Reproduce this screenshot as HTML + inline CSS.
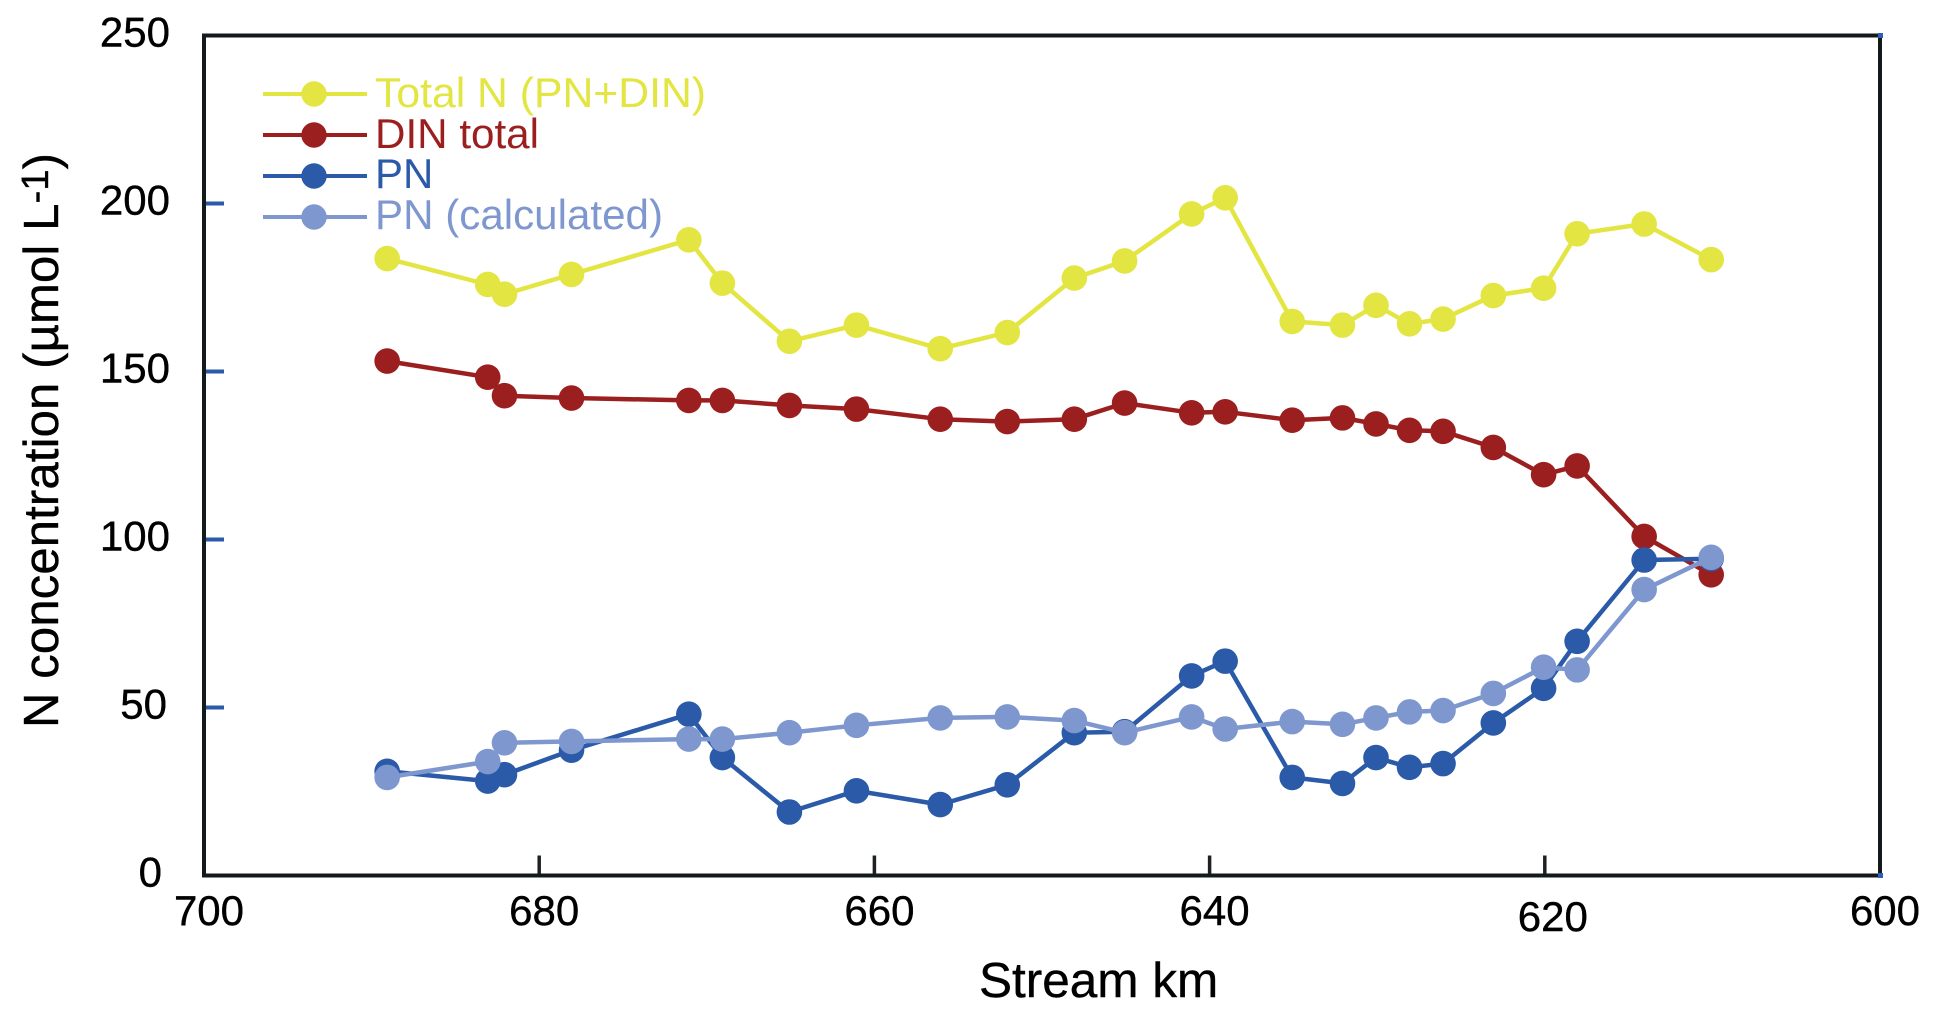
<!DOCTYPE html>
<html lang="en">
<head>
<meta charset="utf-8">
<title>N concentration by stream km</title>
<style>
html,body{margin:0;padding:0;background:#fff;}
svg{display:block;}
text{font-family:"Liberation Sans",Arial,sans-serif;}
</style>
</head>
<body>
<svg id="chart" xmlns="http://www.w3.org/2000/svg" width="1937" height="1016" viewBox="0 0 1937 1016">
  <rect x="0" y="0" width="1937" height="1016" fill="#ffffff"/>
  <g id="ticks"></g>
  <rect x="204" y="35.5" width="1676" height="840" fill="none" stroke="#131a1c" stroke-width="4"/>
  <rect x="1878" y="33" width="5" height="5" fill="#2f5fb5"/>
  <rect x="1878" y="873" width="5" height="5" fill="#2f5fb5"/>
  <g id="tick-labels"></g>
  <text transform="translate(58,728) rotate(-90)" font-size="49" fill="#000" stroke="#000" stroke-width="0.4" textLength="575" lengthAdjust="spacing">N concentration (µmol L<tspan font-size="38" dy="-10">-1</tspan><tspan dy="10">)</tspan></text>
  <text x="979" y="997" font-size="49.5" fill="#000" stroke="#000" stroke-width="0.4">Stream km</text>
  <g id="series"></g>
  <g>
    <g>
      <line x1="263" y1="94" x2="367" y2="94" stroke="#e3e542" stroke-width="4"/>
      <circle cx="314" cy="94" r="12.7" fill="#e3e542"/>
      <text x="375" y="107" font-size="42" fill="#e3e542" textLength="331" lengthAdjust="spacingAndGlyphs">Total N (PN+DIN)</text>
    </g>
    <g>
      <line x1="263" y1="135" x2="367" y2="135" stroke="#9c1f20" stroke-width="4"/>
      <circle cx="314" cy="135" r="12.7" fill="#9c1f20"/>
      <text x="375" y="148" font-size="42" fill="#9c1f20" textLength="164" lengthAdjust="spacingAndGlyphs">DIN total</text>
    </g>
    <g>
      <line x1="263" y1="176" x2="367" y2="176" stroke="#2a5aa8" stroke-width="4"/>
      <circle cx="314" cy="176" r="12.7" fill="#2a5aa8"/>
      <text x="375" y="188" font-size="42" fill="#2a5aa8">PN</text>
    </g>
    <g>
      <line x1="263" y1="217" x2="367" y2="217" stroke="#7f97cf" stroke-width="4"/>
      <circle cx="314" cy="217" r="12.7" fill="#7f97cf"/>
      <text x="375" y="229" font-size="42" fill="#7f97cf" textLength="288" lengthAdjust="spacingAndGlyphs">PN (calculated)</text>
    </g>
  </g>
</svg>
<script>
const streamKm = [689,683,682,678,671,669,665,661,656,652,648,645,641,639,635,632,630,628,626,623,620,618,614,610];
const totalN = [183.6,175.9,173,178.9,189.2,176.3,159,163.8,156.8,161.6,177.8,182.9,196.9,201.7,164.9,163.8,169.7,164.2,165.6,172.6,174.8,191,193.9,183.3];
const dinTotal = [153.1,148.3,142.8,142.1,141.4,141.4,139.9,138.8,135.8,135.1,135.8,140.6,137.7,138,135.5,136.2,134.4,132.5,132.2,127.4,119.3,121.9,100.9,89.5];
const pnMeasured = [31,28.1,30,37.3,48,35.1,18.9,25.2,21.1,27,42.5,42.8,59.4,63.8,29.2,27.4,35.1,32.2,33.3,45.4,55.7,69.7,93.9,94.3];
const pnCalculated = [29.2,33.9,39.5,39.9,40.6,40.6,42.5,44.7,46.9,47.2,46.1,42.5,47.2,43.6,45.8,45,46.9,48.7,49.1,54.2,62,61.2,85.1,94.7];
const xTickLabels = [700,680,660,640,620,600];
const yTickLabels = [250,200,150,100,50,0];

const SVG_NS = 'http://www.w3.org/2000/svg';
function xScale(km) { return 204 + (700 - km) * 16.76; }
function yScale(v) { return 875.5 - v * 3.36; }
function markX(km) { return xScale(km) - 1.2; }
function make(tag, attrs) {
  const el = document.createElementNS(SVG_NS, tag);
  for (const k in attrs) el.setAttribute(k, attrs[k]);
  return el;
}
function xLabelShift(v) { return v === 620 ? 8 : 5; }
function xLabelBaseline(v) { return v === 620 ? 931 : 925; }
function yLabelRight(v) { return v === 0 ? 162 : (v === 50 ? 167 : 170); }

const tickGroup = document.getElementById('ticks');
const labelGroup = document.getElementById('tick-labels');

xTickLabels.forEach(function (v) {
  const x = xScale(v);
  if (v !== 700 && v !== 600) {
    const tick = make('line', { x1: x, x2: x, y1: 855.5, y2: 875.5, stroke: '#1c2224', 'stroke-width': 3.5 });
    
    
    tickGroup.appendChild(tick);
  }
  const label = make('text', { x: x + xLabelShift(v), y: xLabelBaseline(v), 'font-size': 42, 'text-anchor': 'middle', fill: '#000', stroke: '#000', 'stroke-width': 0.4 });
  label.textContent = String(v);
  
  
  labelGroup.appendChild(label);
});

yTickLabels.forEach(function (v) {
  const y = yScale(v);
  if (v !== 250 && v !== 0) {
    const tick = make('line', { x1: 204, x2: 224, y1: y, y2: y, stroke: '#2a5aa8', 'stroke-width': 4 });
    
    
    tickGroup.appendChild(tick);
  }
  const label = make('text', { x: yLabelRight(v), y: y + 11, 'font-size': 42, 'text-anchor': 'end', fill: '#000', stroke: '#000', 'stroke-width': 0.4 });
  label.textContent = String(v);
  
  
  labelGroup.appendChild(label);
});

function drawSeries(name, values, color) {
  const group = make('g', {});
  
  
  const pts = values.map(function (v, i) { return markX(streamKm[i]).toFixed(1) + ',' + yScale(v).toFixed(1); }).join(' ');
  const line = make('polyline', { points: pts, fill: 'none', stroke: color, 'stroke-width': 4.5, 'stroke-linejoin': 'round' });
  
  
  group.appendChild(line);
  values.forEach(function (v, i) {
    const dot = make('circle', { cx: markX(streamKm[i]), cy: yScale(v), r: 12.8, fill: color });
    
    
    group.appendChild(dot);
  });
  document.getElementById('series').appendChild(group);
}

drawSeries('total-n', totalN, '#e3e542');
drawSeries('din-total', dinTotal, '#9c1f20');
drawSeries('pn', pnMeasured, '#2a5aa8');
drawSeries('pn-calculated', pnCalculated, '#7f97cf');
</script>
</body>
</html>
